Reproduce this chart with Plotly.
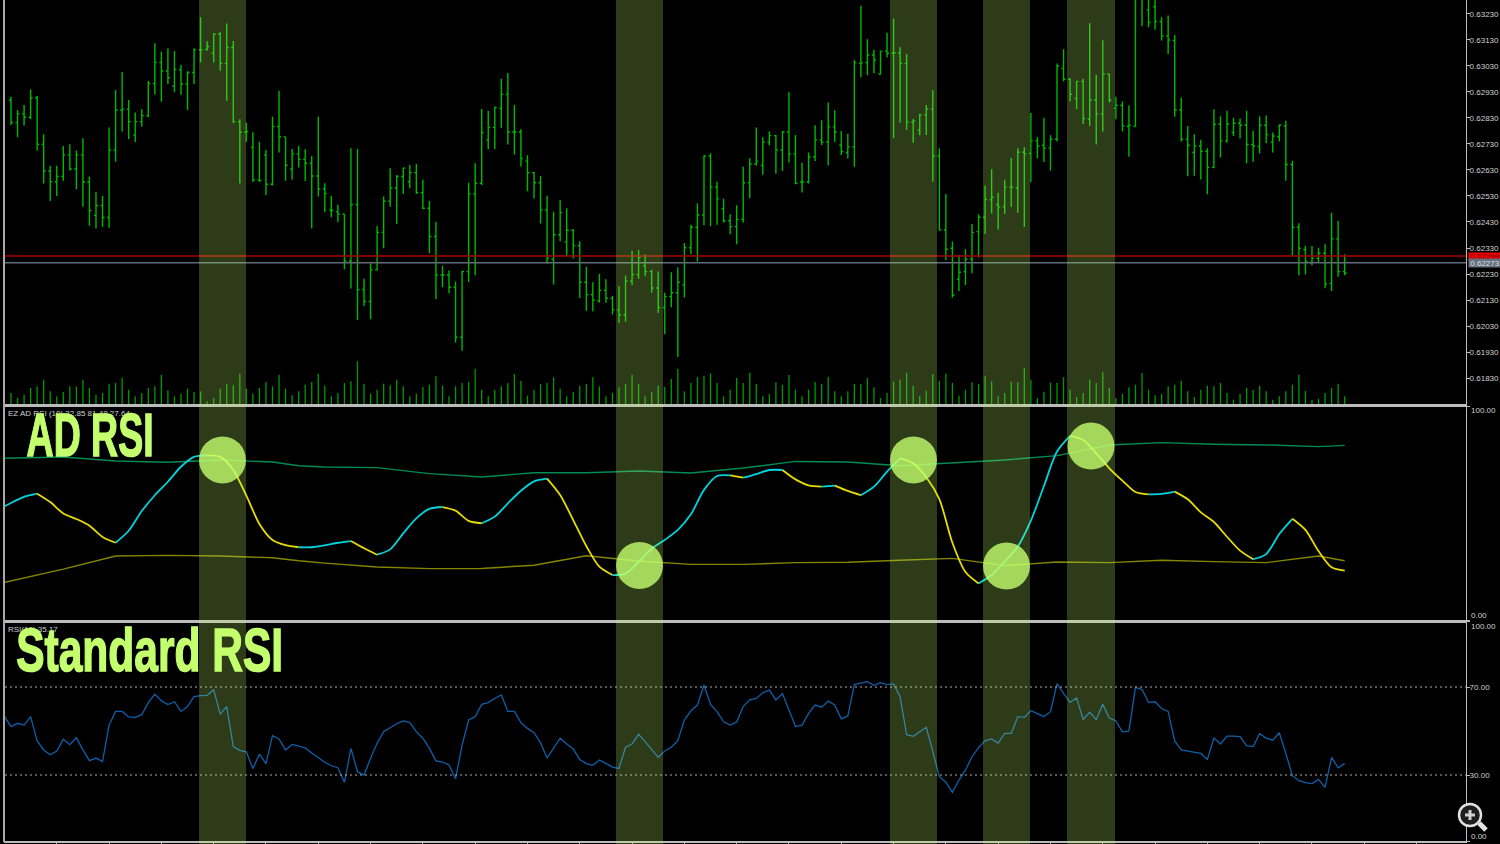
import plotly.graph_objects as go

W, H = 1500, 844

# Price bars, in points of 0.00001
high_pts = [62912,62861,62880,62940,62915,62767,62646,62646,62722,62729,62705,62752,62605,62546,62530,62793,62938,63007,62899,62851,62864,62972,63117,63085,63098,63088,63034,63010,63098,63217,63125,63156,63160,63193,63126,62825,62812,62775,62739,62707,62835,62935,62756,62711,62722,62710,62684,62835,62579,62530,62496,62461,62714,62711,62212,62271,62415,62528,62637,62611,62640,62649,62653,62592,62511,62431,62262,62243,62201,62243,62581,62656,62865,62857,62874,
 62981,63003,62880,62787,62687,62622,62607,62531,62469,62514,62483,62402,62356,62258,62198,62230,62210,62146,62183,62224,62319,62322,62306,62246,62240,62158,62237,62256,62349,62419,62501,62687,62694,62585,62519,62460,62494,62642,62675,62793,62756,62778,62765,62780,62929,62765,62658,62697,62802,62821,62890,62860,62780,62769,63053,63262,63133,63092,63088,63158,63213,63102,63076,62826,62846,
 62880,62938,62714,62538,62355,62302,62325,62422,62460,62570,62633,62542,62592,62676,62714,62717,62849,62756,62831,62764,63040,63094,62983,62972,62981,63194,62996,63129,62999,62912,62893,62878,63322,63310,63297,63284,63217,63224,63149,62908,62799,62767,62746,62714,62864,62837,62858,62831,62828,62858,62781,62837,62840,62774,62806,62819,62666,62425,62339,62338,62331,62344,62466,62434,62306]
low_pts = [62803,62756,62801,62825,62705,62578,62511,62530,62589,62628,62556,62489,62416,62405,62412,62408,62662,62778,62749,62738,62797,62833,62920,62892,62961,62929,62919,62861,62961,63043,63089,63043,63012,62896,62810,62578,62739,62584,62585,62534,62570,62697,62589,62592,62640,62588,62405,62528,62467,62448,62429,62248,62174,62053,62107,62056,62243,62329,62489,62422,62538,62560,62538,62479,62310,62134,62179,62156,61967,61935,62199,62225,62572,62710,62711,
 62792,62728,62690,62643,62548,62520,62424,62269,62190,62356,62297,62290,62138,62089,62087,62120,62119,62074,62042,62046,62188,62212,62221,62158,62080,61998,62102,61911,62140,62306,62278,62417,62414,62419,62428,62383,62344,62428,62521,62647,62612,62724,62616,62626,62658,62575,62543,62578,62665,62726,62647,62738,62688,62674,62642,62987,62994,63002,62997,63063,62752,62812,62785,62735,62764,
 62765,62585,62399,62284,62139,62165,62188,62233,62293,62384,62463,62401,62461,62488,62466,62411,62584,62675,62661,62628,62740,62970,62894,62864,62807,62799,62728,62778,62890,62825,62778,62681,62797,63184,63179,63169,63128,63076,62835,62740,62606,62608,62593,62537,62637,62678,62735,62761,62751,62656,62662,62693,62733,62697,62740,62589,62301,62225,62228,62264,62276,62175,62165,62219,62225]
open_pts = [62899,62812,62846,62833,62908,62729,62626,62585,62605,62688,62634,62688,62584,62456,62493,62447,62707,62860,62864,62764,62816,62839,62962,63044,63011,62953,63015,62961,63005,63092,63094,63079,63153,63040,63101,62816,62775,62717,62592,62688,62575,62797,62758,62634,62692,62671,62656,62607,62557,62476,62470,62461,62280,62497,62170,62124,62246,62390,62510,62560,62605,62585,62620,62543,62483,62374,62226,62226,62179,61987,62239,62538,62579,62746,62794,
 62867,62921,62776,62776,62664,62620,62581,62476,62287,62381,62353,62398,62339,62198,62151,62126,62167,62137,62092,62073,62203,62228,62262,62239,62176,62101,62143,62158,62188,62331,62410,62457,62684,62564,62481,62435,62412,62440,62581,62653,62647,62737,62762,62707,62776,62692,62584,62584,62680,62746,62737,62796,62725,62697,62719,63039,63043,63072,62999,63087,63079,63081,63040,62814,62784,
 62842,62864,62684,62399,62329,62210,62239,62287,62393,62448,62515,62497,62488,62564,62561,62698,62694,62742,62725,62714,62748,63021,62979,62905,62971,62825,62899,62846,62999,62867,62879,62797,62797,63290,63246,63258,63201,63146,63128,62861,62748,62697,62722,62702,62640,62806,62742,62774,62810,62802,62728,62720,62802,62737,62758,62799,62651,62410,62323,62274,62290,62310,62194,62365,62239]
close_pts = [62812,62846,62833,62908,62729,62626,62585,62605,62688,62634,62688,62584,62474,62493,62447,62707,62860,62864,62816,62816,62839,62962,63044,63011,62985,63017,62961,63005,63092,63092,63105,63153,63040,63101,62816,62775,62778,62592,62589,62575,62797,62758,62648,62692,62671,62656,62607,62557,62540,62474,62461,62280,62497,62170,62124,62246,62390,62510,62560,62605,62637,62620,62543,62483,62374,62226,62226,62179,61987,62239,62538,62579,62774,62794,62871,
 62921,62776,62776,62674,62620,62581,62476,62290,62381,62466,62398,62339,62198,62151,62129,62167,62137,62092,62073,62203,62228,62293,62239,62176,62101,62143,62158,62198,62331,62410,62457,62684,62564,62519,62435,62412,62440,62581,62653,62664,62737,62762,62707,62776,62692,62579,62584,62680,62746,62737,62796,62776,62701,62719,63043,63043,63072,63053,63087,63079,63081,63040,62814,62819,62842,
 62864,62684,62399,62325,62148,62237,62287,62390,62448,62517,62525,62488,62564,62564,62698,62692,62742,62722,62714,62748,63030,62979,62921,62971,62828,62899,62846,62999,62898,62879,62799,62802,63290,63297,63197,63201,63146,63130,62861,62748,62725,62722,62702,62640,62806,62742,62807,62810,62802,62728,62722,62802,62766,62761,62803,62651,62410,62329,62278,62290,62310,62192,62365,62239,62233]
volume = [33,18,28,48,53,73,38,23,36,53,53,73,48,28,33,61,63,78,43,23,33,48,53,88,41,23,31,46,36,38,8,18,46,61,56,91,46,31,48,66,53,88,46,26,38,58,66,91,55,23,33,63,68,128,61,31,43,61,56,73,53,23,31,51,58,83,55,23,53,63,66,106,43,23,43,
 53,63,90,70,25,43,60,63,80,46,23,36,55,60,80,53,23,33,50,60,88,60,23,36,55,51,75,105,38,63,81,85,92,63,23,43,78,63,94,60,23,30,65,58,87,43,23,43,66,61,81,38,23,38,60,60,78,50,18,33,67,73,94,55,23,
 40,90,70,91,63,25,43,65,60,85,68,23,33,67,65,108,73,18,37,65,63,80,43,21,33,73,63,95,48,18,30,50,58,93,43,26,30,53,58,70,38,21,43,55,53,63,33,13,30,48,43,55,38,13,23,38,58,88,40,13,16,33,48,61,23]

# AD RSI main line and its bands
ad_x = [-1,0,2,4,6,8,10,12,14,16,18,20,22,24,26,28,30,32,34,36,38,40,42,44,46,48,50,52,54,56,58,60,62,64,66,68,70,72,74,76,78,80,82,84,86,88,90,92,94,96,98,100,102,104,106,108,110,112,114,116,118,120,122,124,126,128,130,132,134,136,138,140,142,144,146,148,150,152,154,156,158,160,162,164,166,168,170,172,174,176,178,180,182,184,186,188,190,192,194,196,198,200,202,204]
ad_rsi = [53.1,54.7,57.5,59.0,55.1,49.8,47.2,44.1,38.8,36.1,41.7,50.9,58.3,64.6,71.6,76.2,76.9,76.2,70.1,58.1,44.9,37.4,35.0,34.0,
 34.0,34.9,36.1,36.9,33.5,30.5,33.0,40.5,47.5,51.9,52.8,51.1,46.3,45.2,48.3,54.5,60.4,64.8,66.1,58.4,46.7,34.6,24.9,21.0,21.7,27.1,33.3,37.4,42.1,49.4,60.8,67.3,67.6,66.5,68.2,70.1,70.1,65.7,
 62.9,62.3,62.8,60.3,58.3,62.3,69.3,75.5,73.2,66.7,56.5,36.1,22.4,17.1,21.0,27.3,34.3,46.4,62.6,78.7,86.0,84.1,77.9,70.9,65.1,59.8,58.7,58.9,60.0,56.4,50.3,45.8,38.9,32.4,28.4,30.8,40.2,47.3,42.1,32.2,24.6,23.1]
level_x = [-1,8,16,24,32,40,44,48,56,64,72,80,88,96,104,112,120,128,136,144,152,160,168,176,184,192,200,204]
upper_level = [75.6,76.2,74.3,73.7,74.8,73.8,72.1,71.5,71.2,68.4,66.8,68.8,68.8,69.6,68.7,71.0,74.1,73.8,72.1,73.5,74.8,76.8,81.8,82.9,82.1,81.8,81.0,81.6]
lower_level = [17.6,23.8,29.9,30.2,29.9,29.1,27.7,26.6,24.8,24.0,24.1,25.6,30.0,27.6,26.0,26.0,26.8,27.0,27.9,28.8,25.4,27.1,26.8,27.9,27.3,26.8,29.9,27.7]

# Standard RSI, bar by bar from bar -1
rsi = [56.5,52.0,53.5,52.7,56.5,45.5,41.4,39.2,40.9,46.2,43.8,47.0,41.4,36.5,37.7,36.1,52.7,58.9,58.9,56.4,56.2,57.4,62.9,66.7,63.8,62.0,63.3,58.9,61.1,65.6,66.1,66.2,68.8,57.7,61.1,42.9,41.2,40.5,32.9,39.5,35.2,47.9,46.4,41.4,43.9,43.0,42.3,40.0,37.7,35.8,34.2,33.3,26.7,42.1,31.5,30.0,37.6,44.4,49.7,51.7,53.3,54.6,53.8,49.7,46.7,42.1,36.4,35.9,34.6,28.3,43.6,55.0,56.5,
 62.1,62.9,64.8,66.4,58.9,58.9,53.8,51.2,49.2,44.7,37.7,42.4,46.7,44.1,41.8,37.0,35.2,34.4,36.8,35.3,33.6,33.0,42.6,44.1,48.5,45.2,41.7,38.0,40.9,42.6,45.6,55.0,59.2,61.8,70.9,62.1,58.8,54.2,52.7,54.1,61.1,64.2,64.8,67.4,68.6,64.1,67.0,59.9,52.0,52.7,58.0,61.8,60.8,63.6,61.8,55.5,56.8,71.1,71.7,72.4,70.8,72.0,71.1,71.4,65.6,48.3,47.6,49.6,
 51.7,40.6,29.2,26.7,22.1,27.7,32.3,38.3,42.4,45.6,46.4,44.5,48.9,48.9,56.5,56.2,59.2,57.9,56.5,58.8,71.5,67.1,63.0,65.0,55.2,58.5,55.2,62.1,55.9,54.7,49.6,49.9,69.7,68.9,63.0,63.3,60.2,58.9,45.5,41.4,40.9,40.5,39.8,37.1,46.8,44.1,47.7,47.7,47.4,43.3,42.9,48.8,46.8,45.8,49.2,39.8,29.7,27.4,26.5,26.1,28.0,24.4,38.0,33.3,35.3]

price_ticks = [0.61830,0.61930,0.62030,0.62130,0.62230,0.62330,0.62430,0.62530,0.62630,0.62730,0.62830,0.62930,0.63030,0.63130,0.63230]
ask_price, bid_price = 0.62299, 0.62273
rsi_levels = [30, 70]
band_start = [28.76, 92.54, 134.45, 148.68, 161.53]
band_end = [35.95, 99.73, 141.64, 155.87, 168.87]
signal_x = [32.35, 96.14, 138.05, 152.27, 165.2]
signal_y = [74.8, 25.5, 74.8, 25.2, 81.3]

# Styling
GRID = "#bcbcbc"
TXT = "#d0d0d0"
LIME = "196,255,110"
FONT = "Liberation Sans"


def fy(px):
    return 1 - px / H


bars = list(range(len(high_pts)))
x_dom = [5 / W, 1466 / W]
x_rng = [-0.918, 222.56]

fig = go.Figure()
vol_x, vol_y = [], []
for b, v in zip(bars, volume):
    vol_x += [b, b, None]
    vol_y += [0, v, None]
fig.add_trace(go.Scatter(x=vol_x, y=vol_y, mode="lines", line=dict(color="#009a00", width=1.3), xaxis="x", yaxis="y4"))
fig.add_trace(go.Ohlc(x=bars, open=[v / 1e5 for v in open_pts], high=[v / 1e5 for v in high_pts],
                      low=[v / 1e5 for v in low_pts], close=[v / 1e5 for v in close_pts],
                      increasing=dict(line=dict(color="#00b800", width=1.4)),
                      decreasing=dict(line=dict(color="#00b800", width=1.4)),
                      tickwidth=0.3, xaxis="x", yaxis="y"))

fig.add_trace(go.Scatter(x=level_x, y=upper_level, mode="lines", line=dict(color="#008a55", width=1.4), xaxis="x2", yaxis="y2"))
fig.add_trace(go.Scatter(x=level_x, y=lower_level, mode="lines", line=dict(color="#858500", width=1.4), xaxis="x2", yaxis="y2"))
for colour, rising in (("#00d4dc", True), ("#e6dc00", False)):
    xs, ys = [], []
    for i in range(1, len(ad_rsi)):
        if (ad_rsi[i] >= ad_rsi[i - 1]) == rising:
            if xs and xs[-1] == ad_x[i - 1]:
                xs.append(ad_x[i])
                ys.append(ad_rsi[i])
            else:
                xs += [None, ad_x[i - 1], ad_x[i]]
                ys += [None, ad_rsi[i - 1], ad_rsi[i]]
    fig.add_trace(go.Scatter(x=xs, y=ys, mode="lines", line=dict(color=colour, width=1.8, shape="spline", smoothing=0.8),
                             xaxis="x2", yaxis="y2"))
fig.add_trace(go.Scatter(x=signal_x, y=signal_y, mode="markers",
                         marker=dict(size=47, color=f"rgba({LIME},0.8)", line=dict(width=0)), xaxis="x2", yaxis="y2"))

fig.add_trace(go.Scatter(x=list(range(-1, len(rsi) - 1)), y=rsi, mode="lines",
                         line=dict(color="#0f5fa8", width=1.3), xaxis="x3", yaxis="y3"))

shapes = []
shapes.append(dict(type="line", xref="x domain", yref="y", x0=0, x1=1, y0=ask_price, y1=ask_price, line=dict(color="#a80000", width=1.6), layer="above"))
shapes.append(dict(type="line", xref="x domain", yref="y", x0=0, x1=1, y0=bid_price, y1=bid_price, line=dict(color="#5f6b78", width=1.4), layer="above"))
for lvl in rsi_levels:
    shapes.append(dict(type="line", xref="x3 domain", yref="y3", x0=0, x1=1, y0=lvl, y1=lvl,
                       line=dict(color="#b0b0b0", width=1, dash="2px,3px"), layer="above"))
for a, b in zip(band_start, band_end):
    shapes.append(dict(type="rect", xref="x", yref="paper", x0=a, x1=b, y0=0, y1=1,
                       fillcolor=f"rgba({LIME},0.23)", line=dict(width=0), layer="above"))

# Zoom badge in the lower right corner


def px_line(x0, y0, x1, y1, color, width):
    return dict(type="line", xref="paper", yref="paper", x0=x0 / W, x1=x1 / W, y0=fy(y0), y1=fy(y1),
                line=dict(color=color, width=width), layer="above")


shapes.append(px_line(4, 0, 4, 842, "#a8a8a8", 2))
shapes.append(px_line(1479, 823, 1486, 830, "#e4e4e4", 5))
shapes.append(dict(type="circle", xref="paper", yref="paper", x0=1459 / W, x1=1481 / W, y0=fy(826), y1=fy(804),
                   fillcolor="#1e1e1e", line=dict(color="#e0e0e0", width=2.5), layer="above"))
shapes.append(px_line(1465, 815, 1475, 815, "#d0d0d0", 3))
shapes.append(px_line(1470, 810, 1470, 820, "#d0d0d0", 3))

annotations = []


def label(text, yref, y, yshift=0):
    annotations.append(dict(text=text, xref="paper", x=1470 / W, xanchor="left", yref=yref, y=y, yshift=yshift,
                            showarrow=False, font=dict(family=FONT, size=8, color=TXT), borderpad=0))


label("100.00", "y2", 100, -4)
label("0.00", "y2", 0, 5)
label("100.00", "y3", 100, -5)
label("0.00", "y3", 0, 5)
annotations.append(dict(text="0.62299", xref="paper", x=1468 / W, xanchor="left", yref="y", y=ask_price, yshift=0,
                        showarrow=False, width=32, height=7, bgcolor="#f00000", borderpad=0,
                        font=dict(family=FONT, size=8, color="#7a0000")))
annotations.append(dict(text="0.62273", xref="paper", x=1468 / W, xanchor="left", yref="y", y=bid_price, yshift=0,
                        showarrow=False, width=32, height=8, bgcolor="#66717e", borderpad=0,
                        font=dict(family=FONT, size=8, color="#d8dde2")))
annotations.append(dict(text="EZ AD RSI (10) 32.85 81.48 27.64", xref="paper", yref="paper", x=7 / W, y=fy(413), xanchor="left", yanchor="middle",
                        showarrow=False, font=dict(family=FONT, size=8, color=TXT), borderpad=0))
annotations.append(dict(text="RSI(10) 35.17", xref="paper", yref="paper", x=7 / W, y=fy(629), xanchor="left", yanchor="middle",
                        showarrow=False, font=dict(family=FONT, size=8, color=TXT), borderpad=0))
for text, cx, cy in (("AD RSI", 89.5, 434.5), ("Standard RSI", 149.5, 649.5)):
    annotations.append(dict(text=text, xref="paper", yref="paper", x=cx / W, y=fy(cy), xanchor="center", yanchor="middle",
                            showarrow=False, borderpad=0,
                            font=dict(family="Liberation Sans Narrow, Liberation Sans", size=62, weight="bold", color=f"rgb({LIME})")))


def xaxis(anchor, **kw):
    d = dict(domain=x_dom, range=x_rng, anchor=anchor, showgrid=False, zeroline=False, showticklabels=False,
             showline=True, linecolor=GRID, linewidth=2.5, ticks="")
    d.update(kw)
    return d


def yaxis(top, bottom, rng, **kw):
    d = dict(domain=[fy(bottom), fy(top)], range=rng, side="right", showgrid=False, zeroline=False,
             showline=True, mirror=True, linecolor=GRID, linewidth=1, ticks="outside", ticklen=3, tickcolor=GRID,
             ticklabelstandoff=-2, tickfont=dict(family=FONT, size=8, color=TXT))
    d.update(kw)
    return d


fig.update_layout(
    width=W, height=H, margin=dict(l=0, r=0, t=0, b=0, pad=0), autosize=False,
    paper_bgcolor="#000000", plot_bgcolor="#000000", showlegend=False, hovermode=False,
    xaxis=xaxis("y", rangeslider=dict(visible=False)),
    xaxis2=xaxis("y2", matches="x"),
    xaxis3=xaxis("y3", matches="x", linewidth=1.5, ticks="outside", ticklen=3, tickcolor=GRID, tickwidth=1, tickvals=list(range(7, 223, 8))),
    yaxis=yaxis(0, 404, [0.6173, 0.632838], tickvals=price_ticks, ticktext=[f"{p:.5f}" for p in price_ticks]),
    yaxis4=dict(domain=[fy(404), fy(0)], range=[0, 1213], overlaying="y", anchor="x", visible=False),
    yaxis2=yaxis(406, 620, [0, 100], tickvals=[0, 100], showticklabels=False, anchor="x2"),
    yaxis3=yaxis(621, 841, [0, 100], tickvals=[0, 30, 70, 100], ticktext=["", "30.00", "70.00", ""], anchor="x3"),
    shapes=shapes, annotations=annotations,
)

post = """
document.body.style.margin='0';
document.body.style.background='#000';
document.body.style.overflow='hidden';
var target={'AD RSI':127,'Standard RSI':267};
document.querySelectorAll('.annotation-text').forEach(function(t){
  var w=target[t.textContent];
  if(w){t.setAttribute('textLength',w);t.setAttribute('lengthAdjust','spacingAndGlyphs');
        t.style.stroke='rgb(196,255,110)';t.style.strokeWidth='1.5px';}
});
"""
fig.write_html("out.html", post_script=post, config=dict(displayModeBar=False))
